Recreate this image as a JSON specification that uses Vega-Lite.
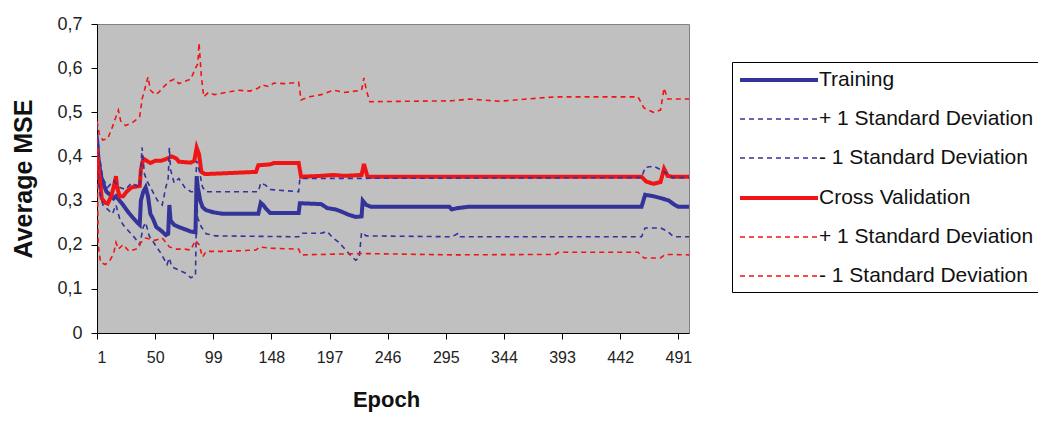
{
  "$schema": "https://vega.github.io/schema/vega-lite/v6.json",
  "width": 592,
  "height": 309,
  "autosize": {"type": "none"},
  "padding": {"left": 97, "top": 24, "right": 349, "bottom": 90},
  "background": "white",
  "config": {
    "view": {"fill": "#C0C0C0", "stroke": "#808080", "strokeWidth": 1},
    "font": "Liberation Sans"
  },
  "datasets": {
    "curves": [
      {"series": "Training", "epoch": 1, "mse": 0.44},
      {"series": "Training", "epoch": 2, "mse": 0.40},
      {"series": "Training", "epoch": 4, "mse": 0.36},
      {"series": "Training", "epoch": 6, "mse": 0.34},
      {"series": "Training", "epoch": 9, "mse": 0.32},
      {"series": "Training", "epoch": 12, "mse": 0.313},
      {"series": "Training", "epoch": 15, "mse": 0.305},
      {"series": "Training", "epoch": 17, "mse": 0.31},
      {"series": "Training", "epoch": 20, "mse": 0.30},
      {"series": "Training", "epoch": 23, "mse": 0.29},
      {"series": "Training", "epoch": 27, "mse": 0.275},
      {"series": "Training", "epoch": 31, "mse": 0.262},
      {"series": "Training", "epoch": 35, "mse": 0.25},
      {"series": "Training", "epoch": 37, "mse": 0.245},
      {"series": "Training", "epoch": 38, "mse": 0.30},
      {"series": "Training", "epoch": 40, "mse": 0.32},
      {"series": "Training", "epoch": 42, "mse": 0.33},
      {"series": "Training", "epoch": 44, "mse": 0.31},
      {"series": "Training", "epoch": 46, "mse": 0.27},
      {"series": "Training", "epoch": 48, "mse": 0.26},
      {"series": "Training", "epoch": 51, "mse": 0.24},
      {"series": "Training", "epoch": 55, "mse": 0.232},
      {"series": "Training", "epoch": 59, "mse": 0.222},
      {"series": "Training", "epoch": 61, "mse": 0.225},
      {"series": "Training", "epoch": 62, "mse": 0.29},
      {"series": "Training", "epoch": 63, "mse": 0.255},
      {"series": "Training", "epoch": 66, "mse": 0.245},
      {"series": "Training", "epoch": 70, "mse": 0.24},
      {"series": "Training", "epoch": 75, "mse": 0.235},
      {"series": "Training", "epoch": 80, "mse": 0.23},
      {"series": "Training", "epoch": 84, "mse": 0.228},
      {"series": "Training", "epoch": 85, "mse": 0.355},
      {"series": "Training", "epoch": 86, "mse": 0.33},
      {"series": "Training", "epoch": 88, "mse": 0.30},
      {"series": "Training", "epoch": 90, "mse": 0.285},
      {"series": "Training", "epoch": 93, "mse": 0.278},
      {"series": "Training", "epoch": 100, "mse": 0.273},
      {"series": "Training", "epoch": 107, "mse": 0.27},
      {"series": "Training", "epoch": 137, "mse": 0.27},
      {"series": "Training", "epoch": 139, "mse": 0.295},
      {"series": "Training", "epoch": 141, "mse": 0.29},
      {"series": "Training", "epoch": 144, "mse": 0.28},
      {"series": "Training", "epoch": 147, "mse": 0.272},
      {"series": "Training", "epoch": 171, "mse": 0.272},
      {"series": "Training", "epoch": 172, "mse": 0.294},
      {"series": "Training", "epoch": 190, "mse": 0.292},
      {"series": "Training", "epoch": 195, "mse": 0.283},
      {"series": "Training", "epoch": 202, "mse": 0.28},
      {"series": "Training", "epoch": 207, "mse": 0.275},
      {"series": "Training", "epoch": 213, "mse": 0.268},
      {"series": "Training", "epoch": 219, "mse": 0.263},
      {"series": "Training", "epoch": 224, "mse": 0.264},
      {"series": "Training", "epoch": 225, "mse": 0.30},
      {"series": "Training", "epoch": 228, "mse": 0.29},
      {"series": "Training", "epoch": 232, "mse": 0.286},
      {"series": "Training", "epoch": 298, "mse": 0.286},
      {"series": "Training", "epoch": 300, "mse": 0.28},
      {"series": "Training", "epoch": 305, "mse": 0.283},
      {"series": "Training", "epoch": 314, "mse": 0.286},
      {"series": "Training", "epoch": 460, "mse": 0.286},
      {"series": "Training", "epoch": 463, "mse": 0.313},
      {"series": "Training", "epoch": 470, "mse": 0.31},
      {"series": "Training", "epoch": 477, "mse": 0.305},
      {"series": "Training", "epoch": 483, "mse": 0.30},
      {"series": "Training", "epoch": 488, "mse": 0.29},
      {"series": "Training", "epoch": 491, "mse": 0.286},
      {"series": "Training", "epoch": 500, "mse": 0.286},

      {"series": "Cross Validation", "epoch": 1, "mse": 0.42},
      {"series": "Cross Validation", "epoch": 3, "mse": 0.36},
      {"series": "Cross Validation", "epoch": 5, "mse": 0.305},
      {"series": "Cross Validation", "epoch": 8, "mse": 0.295},
      {"series": "Cross Validation", "epoch": 10, "mse": 0.293},
      {"series": "Cross Validation", "epoch": 13, "mse": 0.31},
      {"series": "Cross Validation", "epoch": 15, "mse": 0.33},
      {"series": "Cross Validation", "epoch": 17, "mse": 0.355},
      {"series": "Cross Validation", "epoch": 18, "mse": 0.33},
      {"series": "Cross Validation", "epoch": 20, "mse": 0.31},
      {"series": "Cross Validation", "epoch": 23, "mse": 0.31},
      {"series": "Cross Validation", "epoch": 26, "mse": 0.32},
      {"series": "Cross Validation", "epoch": 30, "mse": 0.33},
      {"series": "Cross Validation", "epoch": 37, "mse": 0.333},
      {"series": "Cross Validation", "epoch": 38, "mse": 0.37},
      {"series": "Cross Validation", "epoch": 40, "mse": 0.395},
      {"series": "Cross Validation", "epoch": 43, "mse": 0.39},
      {"series": "Cross Validation", "epoch": 46, "mse": 0.385},
      {"series": "Cross Validation", "epoch": 50, "mse": 0.39},
      {"series": "Cross Validation", "epoch": 55, "mse": 0.39},
      {"series": "Cross Validation", "epoch": 60, "mse": 0.395},
      {"series": "Cross Validation", "epoch": 64, "mse": 0.40},
      {"series": "Cross Validation", "epoch": 68, "mse": 0.395},
      {"series": "Cross Validation", "epoch": 70, "mse": 0.388},
      {"series": "Cross Validation", "epoch": 80, "mse": 0.386},
      {"series": "Cross Validation", "epoch": 83, "mse": 0.39},
      {"series": "Cross Validation", "epoch": 85, "mse": 0.42},
      {"series": "Cross Validation", "epoch": 87, "mse": 0.405},
      {"series": "Cross Validation", "epoch": 89, "mse": 0.365},
      {"series": "Cross Validation", "epoch": 92, "mse": 0.36},
      {"series": "Cross Validation", "epoch": 110, "mse": 0.362},
      {"series": "Cross Validation", "epoch": 135, "mse": 0.365},
      {"series": "Cross Validation", "epoch": 137, "mse": 0.38},
      {"series": "Cross Validation", "epoch": 147, "mse": 0.382},
      {"series": "Cross Validation", "epoch": 150, "mse": 0.385},
      {"series": "Cross Validation", "epoch": 171, "mse": 0.385},
      {"series": "Cross Validation", "epoch": 173, "mse": 0.354},
      {"series": "Cross Validation", "epoch": 190, "mse": 0.356},
      {"series": "Cross Validation", "epoch": 200, "mse": 0.358},
      {"series": "Cross Validation", "epoch": 210, "mse": 0.356},
      {"series": "Cross Validation", "epoch": 224, "mse": 0.358},
      {"series": "Cross Validation", "epoch": 226, "mse": 0.383},
      {"series": "Cross Validation", "epoch": 229, "mse": 0.354},
      {"series": "Cross Validation", "epoch": 460, "mse": 0.354},
      {"series": "Cross Validation", "epoch": 464, "mse": 0.343},
      {"series": "Cross Validation", "epoch": 470, "mse": 0.338},
      {"series": "Cross Validation", "epoch": 476, "mse": 0.342},
      {"series": "Cross Validation", "epoch": 479, "mse": 0.372},
      {"series": "Cross Validation", "epoch": 482, "mse": 0.356},
      {"series": "Cross Validation", "epoch": 486, "mse": 0.354},
      {"series": "Cross Validation", "epoch": 500, "mse": 0.354},

      {"series": "Training +1 SD", "epoch": 1, "mse": 0.47},
      {"series": "Training +1 SD", "epoch": 3, "mse": 0.40},
      {"series": "Training +1 SD", "epoch": 6, "mse": 0.35},
      {"series": "Training +1 SD", "epoch": 10, "mse": 0.33},
      {"series": "Training +1 SD", "epoch": 15, "mse": 0.345},
      {"series": "Training +1 SD", "epoch": 20, "mse": 0.33},
      {"series": "Training +1 SD", "epoch": 25, "mse": 0.325},
      {"series": "Training +1 SD", "epoch": 30, "mse": 0.34},
      {"series": "Training +1 SD", "epoch": 37, "mse": 0.33},
      {"series": "Training +1 SD", "epoch": 39, "mse": 0.42},
      {"series": "Training +1 SD", "epoch": 41, "mse": 0.36},
      {"series": "Training +1 SD", "epoch": 44, "mse": 0.34},
      {"series": "Training +1 SD", "epoch": 48, "mse": 0.32},
      {"series": "Training +1 SD", "epoch": 52, "mse": 0.30},
      {"series": "Training +1 SD", "epoch": 56, "mse": 0.29},
      {"series": "Training +1 SD", "epoch": 59, "mse": 0.33},
      {"series": "Training +1 SD", "epoch": 61, "mse": 0.35},
      {"series": "Training +1 SD", "epoch": 62, "mse": 0.42},
      {"series": "Training +1 SD", "epoch": 63, "mse": 0.37},
      {"series": "Training +1 SD", "epoch": 66, "mse": 0.34},
      {"series": "Training +1 SD", "epoch": 70, "mse": 0.35},
      {"series": "Training +1 SD", "epoch": 75, "mse": 0.33},
      {"series": "Training +1 SD", "epoch": 80, "mse": 0.32},
      {"series": "Training +1 SD", "epoch": 84, "mse": 0.32},
      {"series": "Training +1 SD", "epoch": 85, "mse": 0.39},
      {"series": "Training +1 SD", "epoch": 87, "mse": 0.37},
      {"series": "Training +1 SD", "epoch": 90, "mse": 0.33},
      {"series": "Training +1 SD", "epoch": 93, "mse": 0.32},
      {"series": "Training +1 SD", "epoch": 137, "mse": 0.32},
      {"series": "Training +1 SD", "epoch": 139, "mse": 0.34},
      {"series": "Training +1 SD", "epoch": 143, "mse": 0.335},
      {"series": "Training +1 SD", "epoch": 147, "mse": 0.325},
      {"series": "Training +1 SD", "epoch": 171, "mse": 0.32},
      {"series": "Training +1 SD", "epoch": 172, "mse": 0.35},
      {"series": "Training +1 SD", "epoch": 460, "mse": 0.352},
      {"series": "Training +1 SD", "epoch": 463, "mse": 0.375},
      {"series": "Training +1 SD", "epoch": 470, "mse": 0.378},
      {"series": "Training +1 SD", "epoch": 476, "mse": 0.37},
      {"series": "Training +1 SD", "epoch": 482, "mse": 0.36},
      {"series": "Training +1 SD", "epoch": 486, "mse": 0.352},
      {"series": "Training +1 SD", "epoch": 500, "mse": 0.352},

      {"series": "Training -1 SD", "epoch": 1, "mse": 0.40},
      {"series": "Training -1 SD", "epoch": 3, "mse": 0.32},
      {"series": "Training -1 SD", "epoch": 6, "mse": 0.29},
      {"series": "Training -1 SD", "epoch": 10, "mse": 0.28},
      {"series": "Training -1 SD", "epoch": 14, "mse": 0.27},
      {"series": "Training -1 SD", "epoch": 17, "mse": 0.29},
      {"series": "Training -1 SD", "epoch": 20, "mse": 0.26},
      {"series": "Training -1 SD", "epoch": 23, "mse": 0.245},
      {"series": "Training -1 SD", "epoch": 28, "mse": 0.23},
      {"series": "Training -1 SD", "epoch": 33, "mse": 0.215},
      {"series": "Training -1 SD", "epoch": 37, "mse": 0.20},
      {"series": "Training -1 SD", "epoch": 40, "mse": 0.24},
      {"series": "Training -1 SD", "epoch": 42, "mse": 0.25},
      {"series": "Training -1 SD", "epoch": 45, "mse": 0.22},
      {"series": "Training -1 SD", "epoch": 50, "mse": 0.20},
      {"series": "Training -1 SD", "epoch": 55, "mse": 0.18},
      {"series": "Training -1 SD", "epoch": 58, "mse": 0.165},
      {"series": "Training -1 SD", "epoch": 60, "mse": 0.155},
      {"series": "Training -1 SD", "epoch": 62, "mse": 0.17},
      {"series": "Training -1 SD", "epoch": 64, "mse": 0.15},
      {"series": "Training -1 SD", "epoch": 68, "mse": 0.145},
      {"series": "Training -1 SD", "epoch": 72, "mse": 0.14},
      {"series": "Training -1 SD", "epoch": 76, "mse": 0.135},
      {"series": "Training -1 SD", "epoch": 80, "mse": 0.125},
      {"series": "Training -1 SD", "epoch": 84, "mse": 0.13},
      {"series": "Training -1 SD", "epoch": 85, "mse": 0.30},
      {"series": "Training -1 SD", "epoch": 86, "mse": 0.26},
      {"series": "Training -1 SD", "epoch": 89, "mse": 0.24},
      {"series": "Training -1 SD", "epoch": 93, "mse": 0.225},
      {"series": "Training -1 SD", "epoch": 101, "mse": 0.22},
      {"series": "Training -1 SD", "epoch": 171, "mse": 0.218},
      {"series": "Training -1 SD", "epoch": 174, "mse": 0.226},
      {"series": "Training -1 SD", "epoch": 190, "mse": 0.226},
      {"series": "Training -1 SD", "epoch": 195, "mse": 0.23},
      {"series": "Training -1 SD", "epoch": 200, "mse": 0.215},
      {"series": "Training -1 SD", "epoch": 205, "mse": 0.205},
      {"series": "Training -1 SD", "epoch": 210, "mse": 0.19},
      {"series": "Training -1 SD", "epoch": 215, "mse": 0.175},
      {"series": "Training -1 SD", "epoch": 219, "mse": 0.165},
      {"series": "Training -1 SD", "epoch": 222, "mse": 0.17},
      {"series": "Training -1 SD", "epoch": 224, "mse": 0.228},
      {"series": "Training -1 SD", "epoch": 228, "mse": 0.22},
      {"series": "Training -1 SD", "epoch": 300, "mse": 0.218},
      {"series": "Training -1 SD", "epoch": 305, "mse": 0.225},
      {"series": "Training -1 SD", "epoch": 306, "mse": 0.218},
      {"series": "Training -1 SD", "epoch": 460, "mse": 0.218},
      {"series": "Training -1 SD", "epoch": 463, "mse": 0.238},
      {"series": "Training -1 SD", "epoch": 476, "mse": 0.238},
      {"series": "Training -1 SD", "epoch": 482, "mse": 0.23},
      {"series": "Training -1 SD", "epoch": 487, "mse": 0.218},
      {"series": "Training -1 SD", "epoch": 500, "mse": 0.218},

      {"series": "Cross Validation +1 SD", "epoch": 1, "mse": 0.48},
      {"series": "Cross Validation +1 SD", "epoch": 3, "mse": 0.45},
      {"series": "Cross Validation +1 SD", "epoch": 6, "mse": 0.437},
      {"series": "Cross Validation +1 SD", "epoch": 10, "mse": 0.44},
      {"series": "Cross Validation +1 SD", "epoch": 14, "mse": 0.467},
      {"series": "Cross Validation +1 SD", "epoch": 17, "mse": 0.49},
      {"series": "Cross Validation +1 SD", "epoch": 19, "mse": 0.505},
      {"series": "Cross Validation +1 SD", "epoch": 21, "mse": 0.48},
      {"series": "Cross Validation +1 SD", "epoch": 25, "mse": 0.47},
      {"series": "Cross Validation +1 SD", "epoch": 30, "mse": 0.475},
      {"series": "Cross Validation +1 SD", "epoch": 35, "mse": 0.485},
      {"series": "Cross Validation +1 SD", "epoch": 37, "mse": 0.49},
      {"series": "Cross Validation +1 SD", "epoch": 39, "mse": 0.53},
      {"series": "Cross Validation +1 SD", "epoch": 41, "mse": 0.55},
      {"series": "Cross Validation +1 SD", "epoch": 44, "mse": 0.58},
      {"series": "Cross Validation +1 SD", "epoch": 46, "mse": 0.55},
      {"series": "Cross Validation +1 SD", "epoch": 50, "mse": 0.54},
      {"series": "Cross Validation +1 SD", "epoch": 53, "mse": 0.545},
      {"series": "Cross Validation +1 SD", "epoch": 58, "mse": 0.56},
      {"series": "Cross Validation +1 SD", "epoch": 62, "mse": 0.57},
      {"series": "Cross Validation +1 SD", "epoch": 66, "mse": 0.575},
      {"series": "Cross Validation +1 SD", "epoch": 70, "mse": 0.565},
      {"series": "Cross Validation +1 SD", "epoch": 75, "mse": 0.57},
      {"series": "Cross Validation +1 SD", "epoch": 80, "mse": 0.575},
      {"series": "Cross Validation +1 SD", "epoch": 84, "mse": 0.60},
      {"series": "Cross Validation +1 SD", "epoch": 86, "mse": 0.61},
      {"series": "Cross Validation +1 SD", "epoch": 87, "mse": 0.657},
      {"series": "Cross Validation +1 SD", "epoch": 89, "mse": 0.58},
      {"series": "Cross Validation +1 SD", "epoch": 91, "mse": 0.535},
      {"series": "Cross Validation +1 SD", "epoch": 95, "mse": 0.545},
      {"series": "Cross Validation +1 SD", "epoch": 100, "mse": 0.54},
      {"series": "Cross Validation +1 SD", "epoch": 110, "mse": 0.545},
      {"series": "Cross Validation +1 SD", "epoch": 120, "mse": 0.55},
      {"series": "Cross Validation +1 SD", "epoch": 130, "mse": 0.548},
      {"series": "Cross Validation +1 SD", "epoch": 137, "mse": 0.555},
      {"series": "Cross Validation +1 SD", "epoch": 140, "mse": 0.562},
      {"series": "Cross Validation +1 SD", "epoch": 146, "mse": 0.558},
      {"series": "Cross Validation +1 SD", "epoch": 150, "mse": 0.566},
      {"series": "Cross Validation +1 SD", "epoch": 160, "mse": 0.565},
      {"series": "Cross Validation +1 SD", "epoch": 171, "mse": 0.568},
      {"series": "Cross Validation +1 SD", "epoch": 173, "mse": 0.528},
      {"series": "Cross Validation +1 SD", "epoch": 180, "mse": 0.535},
      {"series": "Cross Validation +1 SD", "epoch": 190, "mse": 0.54},
      {"series": "Cross Validation +1 SD", "epoch": 200, "mse": 0.55},
      {"series": "Cross Validation +1 SD", "epoch": 210, "mse": 0.545},
      {"series": "Cross Validation +1 SD", "epoch": 224, "mse": 0.55},
      {"series": "Cross Validation +1 SD", "epoch": 226, "mse": 0.578},
      {"series": "Cross Validation +1 SD", "epoch": 228, "mse": 0.55},
      {"series": "Cross Validation +1 SD", "epoch": 231, "mse": 0.524},
      {"series": "Cross Validation +1 SD", "epoch": 300, "mse": 0.526},
      {"series": "Cross Validation +1 SD", "epoch": 315, "mse": 0.53},
      {"series": "Cross Validation +1 SD", "epoch": 340, "mse": 0.525},
      {"series": "Cross Validation +1 SD", "epoch": 387, "mse": 0.535},
      {"series": "Cross Validation +1 SD", "epoch": 457, "mse": 0.535},
      {"series": "Cross Validation +1 SD", "epoch": 462, "mse": 0.51},
      {"series": "Cross Validation +1 SD", "epoch": 470, "mse": 0.50},
      {"series": "Cross Validation +1 SD", "epoch": 476, "mse": 0.505},
      {"series": "Cross Validation +1 SD", "epoch": 479, "mse": 0.555},
      {"series": "Cross Validation +1 SD", "epoch": 482, "mse": 0.53},
      {"series": "Cross Validation +1 SD", "epoch": 500, "mse": 0.53},

      {"series": "Cross Validation -1 SD", "epoch": 1, "mse": 0.44},
      {"series": "Cross Validation -1 SD", "epoch": 2, "mse": 0.20},
      {"series": "Cross Validation -1 SD", "epoch": 4, "mse": 0.16},
      {"series": "Cross Validation -1 SD", "epoch": 8, "mse": 0.155},
      {"series": "Cross Validation -1 SD", "epoch": 12, "mse": 0.165},
      {"series": "Cross Validation -1 SD", "epoch": 15, "mse": 0.18},
      {"series": "Cross Validation -1 SD", "epoch": 17, "mse": 0.205},
      {"series": "Cross Validation -1 SD", "epoch": 19, "mse": 0.19},
      {"series": "Cross Validation -1 SD", "epoch": 23, "mse": 0.20},
      {"series": "Cross Validation -1 SD", "epoch": 28, "mse": 0.185},
      {"series": "Cross Validation -1 SD", "epoch": 34, "mse": 0.19},
      {"series": "Cross Validation -1 SD", "epoch": 38, "mse": 0.205},
      {"series": "Cross Validation -1 SD", "epoch": 42, "mse": 0.215},
      {"series": "Cross Validation -1 SD", "epoch": 50, "mse": 0.21},
      {"series": "Cross Validation -1 SD", "epoch": 56, "mse": 0.215},
      {"series": "Cross Validation -1 SD", "epoch": 62, "mse": 0.195},
      {"series": "Cross Validation -1 SD", "epoch": 68, "mse": 0.19},
      {"series": "Cross Validation -1 SD", "epoch": 75, "mse": 0.19},
      {"series": "Cross Validation -1 SD", "epoch": 80, "mse": 0.188},
      {"series": "Cross Validation -1 SD", "epoch": 84, "mse": 0.21},
      {"series": "Cross Validation -1 SD", "epoch": 87, "mse": 0.20},
      {"series": "Cross Validation -1 SD", "epoch": 90, "mse": 0.172},
      {"series": "Cross Validation -1 SD", "epoch": 93, "mse": 0.185},
      {"series": "Cross Validation -1 SD", "epoch": 110, "mse": 0.185},
      {"series": "Cross Validation -1 SD", "epoch": 135, "mse": 0.188},
      {"series": "Cross Validation -1 SD", "epoch": 138, "mse": 0.195},
      {"series": "Cross Validation -1 SD", "epoch": 147, "mse": 0.192},
      {"series": "Cross Validation -1 SD", "epoch": 171, "mse": 0.19},
      {"series": "Cross Validation -1 SD", "epoch": 173, "mse": 0.177},
      {"series": "Cross Validation -1 SD", "epoch": 225, "mse": 0.18},
      {"series": "Cross Validation -1 SD", "epoch": 300, "mse": 0.177},
      {"series": "Cross Validation -1 SD", "epoch": 387, "mse": 0.178},
      {"series": "Cross Validation -1 SD", "epoch": 390, "mse": 0.183},
      {"series": "Cross Validation -1 SD", "epoch": 457, "mse": 0.183},
      {"series": "Cross Validation -1 SD", "epoch": 462, "mse": 0.17},
      {"series": "Cross Validation -1 SD", "epoch": 476, "mse": 0.17},
      {"series": "Cross Validation -1 SD", "epoch": 480, "mse": 0.178},
      {"series": "Cross Validation -1 SD", "epoch": 500, "mse": 0.177}
    ]
  },
  "data": {"name": "curves"},
  "mark": {"type": "line", "interpolate": "linear", "clip": true},
  "encoding": {
    "x": {
      "field": "epoch",
      "type": "quantitative",
      "scale": {"domain": [1, 500], "nice": false, "zero": false},
      "axis": {
        "values": [1, 50, 99, 148, 197, 246, 295, 344, 393, 442, 491],
        "grid": false,
        "title": "Epoch",
        "titleX": 289,
        "domainColor": "black",
        "tickColor": "black",
        "tickSize": 6,
        "labelPadding": 10,
        "labelFontSize": 16,
        "labelColor": "#222222",
        "titleFontSize": 22,
        "titleFontWeight": "bold",
        "titleColor": "#111111",
        "titlePadding": 24
      }
    },
    "y": {
      "field": "mse",
      "type": "quantitative",
      "scale": {"domain": [0, 0.7], "nice": false},
      "axis": {
        "values": [0, 0.1, 0.2, 0.3, 0.4, 0.5, 0.6, 0.7],
        "labelExpr": "replace(format(datum.value, '.1~f'), '.', ',')",
        "grid": false,
        "title": "Average MSE",
        "domainColor": "black",
        "tickColor": "black",
        "tickSize": 6,
        "labelPadding": 9,
        "labelFontSize": 18,
        "labelColor": "#222222",
        "titleFontSize": 25,
        "titleFontWeight": "bold",
        "titleColor": "#111111",
        "titlePadding": 20
      }
    },
    "color": {
      "field": "series",
      "type": "nominal",
      "scale": {
        "domain": ["Training", "Training +1 SD", "Training -1 SD", "Cross Validation", "Cross Validation +1 SD", "Cross Validation -1 SD"],
        "range": ["#333399", "#333399", "#333399", "#F01414", "#F01414", "#F01414"]
      },
      "legend": {
        "title": null,
        "orient": "none",
        "legendX": 635,
        "legendY": 38,
        "symbolType": "M-1,0H6.8",
        "symbolSize": 400,
        "symbolFillColor": "transparent",
        "rowPadding": 18,
        "labelFontSize": 21,
        "labelColor": "#111111",
        "labelLimit": 400,
        "labelOffset": 57,
        "strokeColor": "black",
        "fillColor": "white",
        "padding": 6,
        "labelExpr": "indexof(datum.label, '+1 SD') >= 0 ? '+ 1 Standard Deviation' : (indexof(datum.label, '-1 SD') >= 0 ? '- 1 Standard Deviation' : datum.label)"
      }
    },
    "strokeDash": {
      "field": "series",
      "type": "nominal",
      "scale": {
        "domain": ["Training", "Training +1 SD", "Training -1 SD", "Cross Validation", "Cross Validation +1 SD", "Cross Validation -1 SD"],
        "range": [[1, 0], [5, 4], [5, 4], [1, 0], [5, 4], [5, 4]]
      }
    },
    "strokeWidth": {
      "field": "series",
      "type": "nominal",
      "scale": {
        "type": "ordinal",
        "domain": ["Training", "Training +1 SD", "Training -1 SD", "Cross Validation", "Cross Validation +1 SD", "Cross Validation -1 SD"],
        "range": [4, 1.6, 1.6, 4, 1.6, 1.6]
      }
    }
  }
}
